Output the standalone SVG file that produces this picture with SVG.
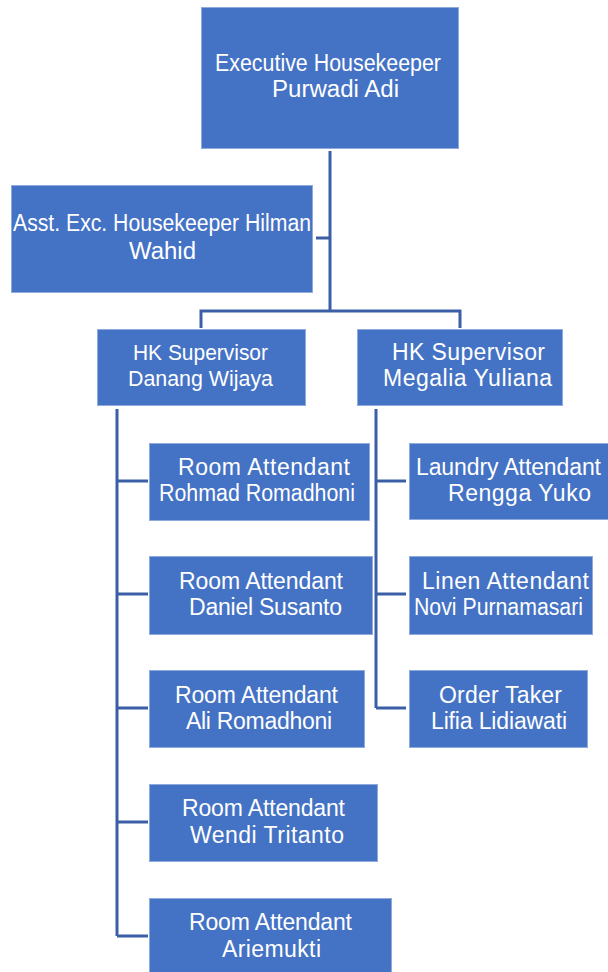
<svg xmlns="http://www.w3.org/2000/svg" width="608" height="972" viewBox="0 0 608 972">
<style>
.box{fill:#4472C4;stroke:#8FAADC;stroke-width:1}
.t{font-family:"Liberation Sans",Arial,sans-serif;font-size:23px;fill:#FFFFFF}
.n{font-size:22px}
.c{fill:none;stroke:#3A5FA6;stroke-width:3}
</style>
<rect width="608" height="972" fill="#FFFFFF"/>
<g id="connectors">
<path class="c" d="M330,151 V311 M316,238 H330 M201,328 V311 H460 V328"/>
<path class="c" d="M117,409 V936 M117,481 H148 M117,594 H148 M117,708 H148 M117,822 H148 M117,936 H148"/>
<path class="c" d="M376,409 V708 M376,481 H406 M376,594 H406 M376,708 H406"/>
</g>
<g id="exec">
<rect class="box" x="201.5" y="7.5" width="257" height="141"/>
<text class="t" x="215" y="71" textLength="226" lengthAdjust="spacingAndGlyphs">Executive Housekeeper</text>
<text class="t" x="272" y="97" textLength="127" lengthAdjust="spacingAndGlyphs">Purwadi Adi</text>
</g>
<g id="asst">
<rect class="box" x="11.5" y="185.5" width="301" height="107"/>
<text class="t" x="13" y="231" textLength="298" lengthAdjust="spacingAndGlyphs">Asst. Exc. Housekeeper Hilman</text>
<text class="t" x="129" y="259" textLength="67" lengthAdjust="spacingAndGlyphs">Wahid</text>
</g>
<g id="sup1">
<rect class="box" x="97.5" y="329.5" width="208" height="76"/>
<text class="t n" x="133" y="360" textLength="135" lengthAdjust="spacingAndGlyphs">HK Supervisor</text>
<text class="t n" x="128" y="386" textLength="145" lengthAdjust="spacingAndGlyphs">Danang Wijaya</text>
</g>
<g id="sup2">
<rect class="box" x="357.5" y="329.5" width="205" height="76"/>
<text class="t" x="392" y="360" textLength="153" lengthAdjust="spacing">HK Supervisor</text>
<text class="t" x="383" y="386" textLength="169" lengthAdjust="spacing">Megalia Yuliana</text>
</g>
<g id="ra1">
<rect class="box" x="149.5" y="443.5" width="220" height="77"/>
<text class="t" x="178" y="475" textLength="172" lengthAdjust="spacing">Room Attendant</text>
<text class="t" x="159" y="501" textLength="196" lengthAdjust="spacingAndGlyphs">Rohmad Romadhoni</text>
</g>
<g id="ra2">
<rect class="box" x="149.5" y="556.5" width="223" height="78"/>
<text class="t" x="179" y="589" textLength="164" lengthAdjust="spacing">Room Attendant</text>
<text class="t" x="189" y="615" textLength="153" lengthAdjust="spacing">Daniel Susanto</text>
</g>
<g id="ra3">
<rect class="box" x="149.5" y="670.5" width="215" height="77"/>
<text class="t" x="175" y="703" textLength="163" lengthAdjust="spacing">Room Attendant</text>
<text class="t" x="186" y="729" textLength="146" lengthAdjust="spacing">Ali Romadhoni</text>
</g>
<g id="ra4">
<rect class="box" x="149.5" y="784.5" width="228" height="77"/>
<text class="t" x="182" y="816" textLength="163" lengthAdjust="spacing">Room Attendant</text>
<text class="t" x="190" y="843" textLength="154" lengthAdjust="spacing">Wendi Tritanto</text>
</g>
<g id="ra5">
<rect class="box" x="149.5" y="898.5" width="242" height="80"/>
<text class="t" x="189" y="930" textLength="163" lengthAdjust="spacing">Room Attendant</text>
<text class="t" x="222" y="957" textLength="99" lengthAdjust="spacing">Ariemukti</text>
</g>
<g id="laundry">
<rect class="box" x="409.5" y="443.5" width="203" height="76"/>
<text class="t" x="416" y="475" textLength="185" lengthAdjust="spacing">Laundry Attendant</text>
<text class="t" x="448" y="501" textLength="143" lengthAdjust="spacing">Rengga Yuko</text>
</g>
<g id="linen">
<rect class="box" x="409.5" y="556.5" width="183" height="78"/>
<text class="t" x="422" y="589" textLength="167" lengthAdjust="spacing">Linen Attendant</text>
<text class="t" x="414" y="615" textLength="169" lengthAdjust="spacingAndGlyphs">Novi Purnamasari</text>
</g>
<g id="order">
<rect class="box" x="409.5" y="670.5" width="178" height="77"/>
<text class="t" x="439" y="703" textLength="123" lengthAdjust="spacing">Order Taker</text>
<text class="t" x="431" y="729" textLength="136" lengthAdjust="spacing">Lifia Lidiawati</text>
</g>
</svg>
